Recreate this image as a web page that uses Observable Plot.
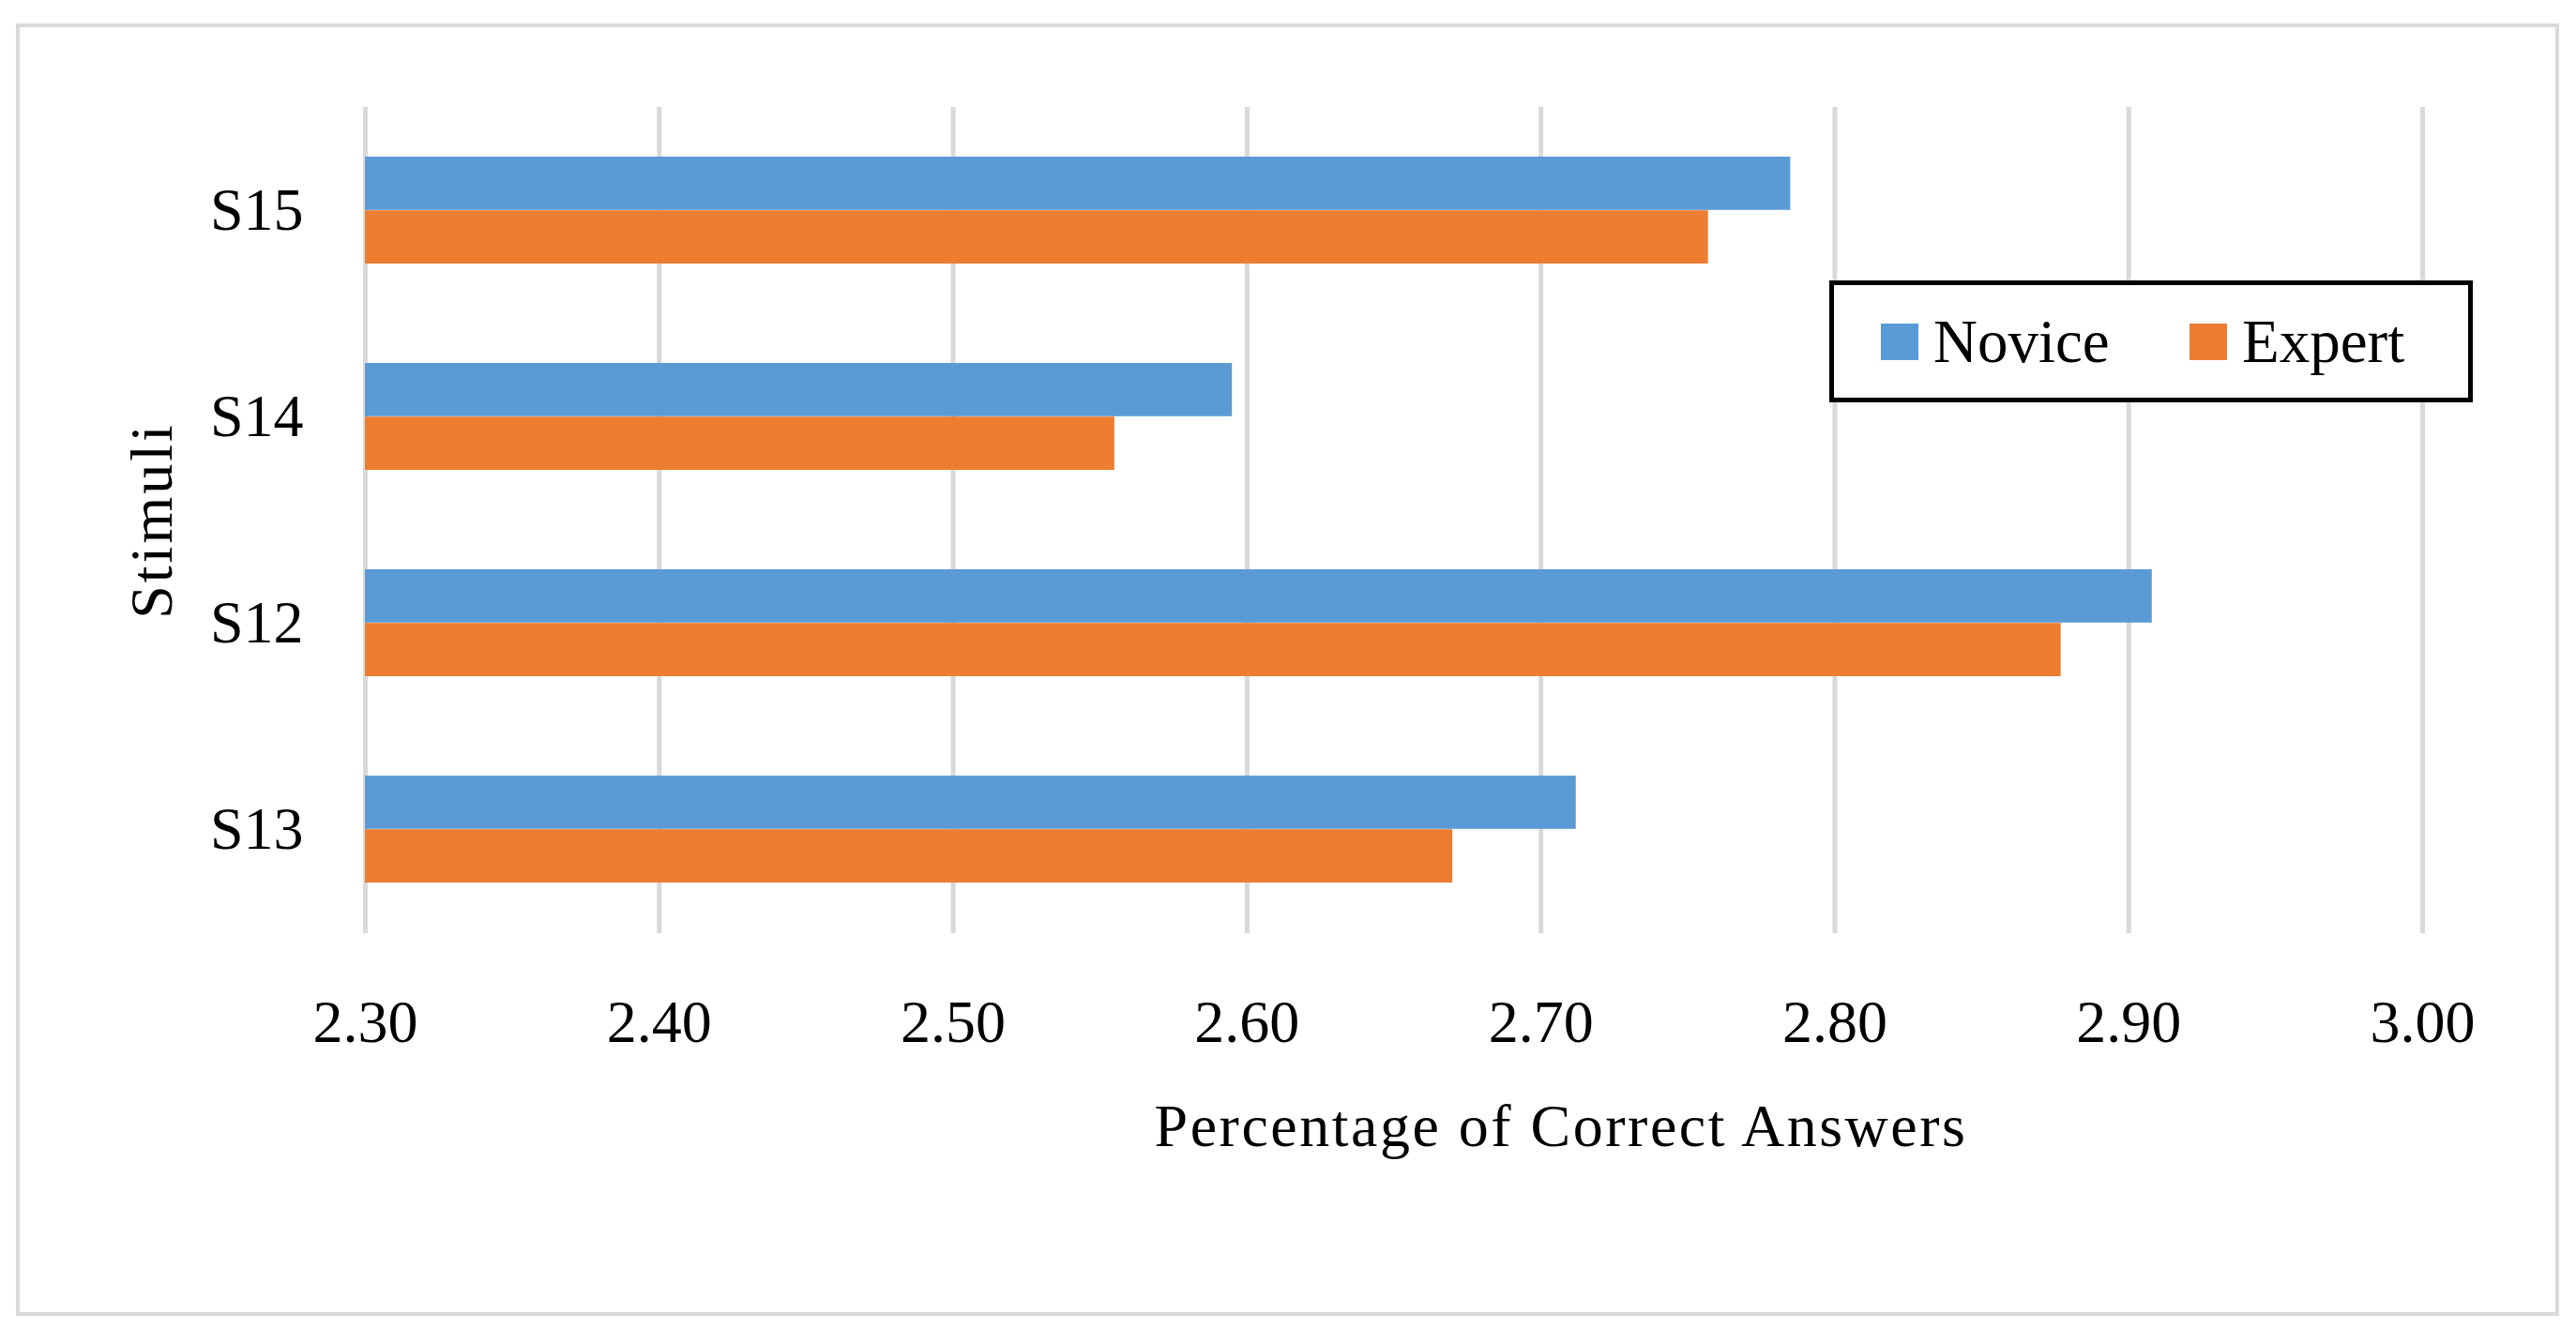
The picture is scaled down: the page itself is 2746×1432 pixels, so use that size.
<!DOCTYPE html>
<html>
<head>
<meta charset="utf-8">
<script src="https://cdn.jsdelivr.net/npm/d3@7"></script>
<script src="https://cdn.jsdelivr.net/npm/@observablehq/plot@0.6"></script>
<style>
  html, body { margin: 0; padding: 0; background: #fff; }
  #wrap { position: relative; width: 2746px; height: 1432px; overflow: hidden; }
  #border { position: absolute; left: 17px; top: 25px; width: 2703px; height: 1370px; border: 4px solid #d9d9d9; box-sizing: content-box; }
  #chart { position: absolute; left: 0; top: 0; }
  #legend { position: absolute; left: 1950px; top: 299px; width: 676px; height: 120px; border: 5px solid #000; background: #fff;
            font-family: "Liberation Serif", serif; font-size: 65px; color: #000; }
  .item { position: absolute; top: 0; height: 120px; display: flex; align-items: center; }
  .sw { display: inline-block; width: 40px; height: 39px; margin-right: 16px; }
</style>
</head>
<body>
<div id="wrap">
  <div id="border"></div>
  <div id="chart"></div>
  <div id="legend"></div>
</div>
<script>
const stimuli = ["S15", "S14", "S12", "S13"];
const series = ["Novice", "Expert"];
const novice = [2.785, 2.595, 2.908, 2.712];
const expert = [2.757, 2.555, 2.877, 2.670];
const xTicks = [2.30, 2.40, 2.50, 2.60, 2.70, 2.80, 2.90, 3.00];
const colors = ["#5b9bd5", "#ed7d31"];
const xTitle = "Percentage of Correct Answers";
const yTitle = "Stimuli";

const data = [];
stimuli.forEach((s, i) => {
  data.push({stimulus: s, series: series[0], value: novice[i]});
  data.push({stimulus: s, series: series[1], value: expert[i]});
});
const xMin = xTicks[0];
const font = "Liberation Serif";

const plot = Plot.plot({
  width: 2746,
  height: 1432,
  marginLeft: 389,
  marginRight: 164,
  marginTop: 114,
  marginBottom: 437,
  style: {fontFamily: font, fontSize: "64px", color: "#000", background: "transparent"},
  x: {domain: [xTicks[0], xTicks[xTicks.length - 1]]},
  y: {domain: stimuli, paddingInner: 0.48, paddingOuter: 0.24},
  color: {domain: series, range: colors},
  marks: [
    Plot.gridX(xTicks, {stroke: "#d9d9d9", strokeOpacity: 1, strokeWidth: 5}),
    Plot.barX(data.filter(d => d.series === series[0]), {
      x1: () => xMin, x2: "value", y: "stimulus", fill: "series", insetBottom: 57.2
    }),
    Plot.barX(data.filter(d => d.series === series[1]), {
      x1: () => xMin, x2: "value", y: "stimulus", fill: "series", insetTop: 57.2
    }),
    Plot.axisX({ticks: xTicks, tickFormat: d3.format(".2f"), tickSize: 0, tickPadding: 70, label: null, fontSize: 64, fill: "#000"}),
    Plot.axisY({tickSize: 0, tickPadding: 66, label: null, fontSize: 64, fill: "#000"}),
    Plot.text([xTitle], {frameAnchor: "bottom", dx: 178, dy: 206, text: d => d, fontSize: 64, textAnchor: "middle", lineAnchor: "middle", fill: "#000"}),
    Plot.text([yTitle], {frameAnchor: "left", dx: -227, text: d => d, fontSize: 64, rotate: -90, textAnchor: "middle", lineAnchor: "middle", fill: "#000"})
  ]
});
plot.querySelectorAll("text").forEach(t => {
  if (t.textContent === xTitle) t.setAttribute("letter-spacing", "2.5");
  if (t.textContent === yTitle) t.setAttribute("letter-spacing", "3");
});
document.getElementById("chart").appendChild(plot);

const colorScale = plot.scale("color");
const legend = document.getElementById("legend");
const lefts = [50, 379];
series.forEach((s, i) => {
  const item = document.createElement("div");
  item.className = "item";
  item.style.left = lefts[i] + "px";
  const sw = document.createElement("span");
  sw.className = "sw";
  sw.style.background = colorScale.apply(s);
  const t = document.createElement("span");
  t.textContent = s;
  item.appendChild(sw);
  item.appendChild(t);
  legend.appendChild(item);
});
</script>
</body>
</html>
